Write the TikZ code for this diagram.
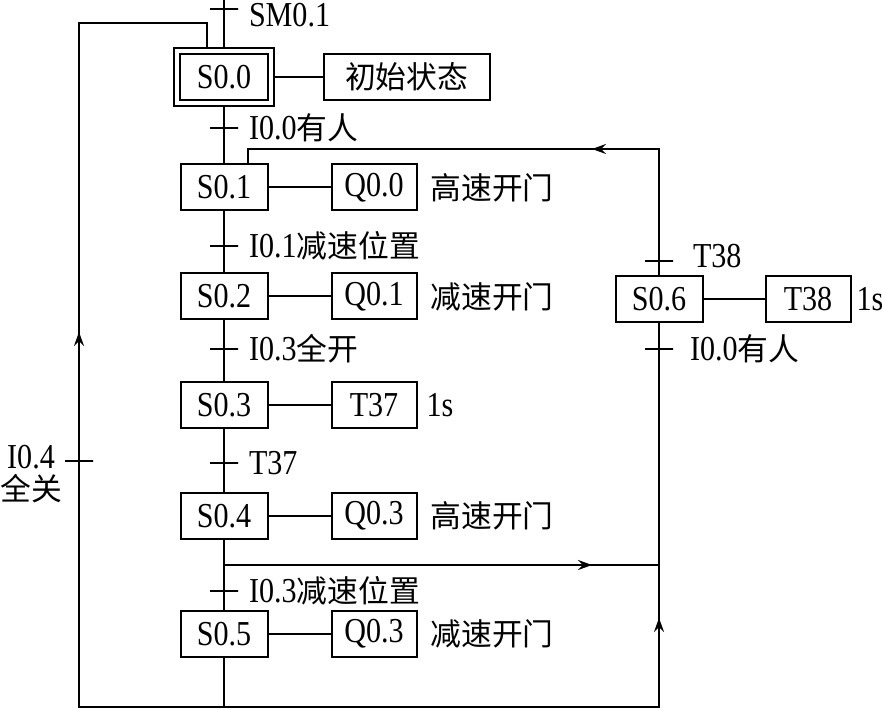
\documentclass[tikz,border=0pt]{standalone}
\usepackage{fontspec}
\setmainfont{Liberation Serif}[FakeStretch=0.86]
\newfontfamily\cjk{Noto Sans CJK SC}[Scale=0.88]
\usepackage{tikz}
\usetikzlibrary{arrows.meta,positioning}
\tikzset{
    stepbox/.style={draw,line width=1pt,minimum width=43.5pt,minimum height=23pt,
      inner sep=1pt},
    initstep/.style={stepbox,double,double distance=1.8pt,minimum width=46.8pt,
      minimum height=26pt,outer sep=1.9pt},
    actbox/.style={draw,line width=1pt,minimum width=42.5pt,minimum height=23pt,
      inner sep=1pt},
    note/.style={inner sep=0.5pt},
    transbar/.style={draw,line width=1pt,minimum width=14pt,minimum height=0pt,
      inner sep=0pt,outer sep=0pt},
    translabel/.style={inner sep=0.5pt},
    flowarrow/.style={-{Stealth[length=7pt,width=5pt,inset=2.5pt]},line width=1pt}
}
\begin{document}
\begin{tikzpicture}[x=0.5pt,y=-0.5pt,font=\fontsize{17.5}{16}\selectfont,line width=1pt]
  \useasboundingbox (0,0) rectangle (882,710);
  % steps
  \node[initstep] (s00) at (224,77) {S0.0};
  \node[stepbox] (s01) at (224,187.5) {S0.1};
  \node[stepbox] (s02) at (224,296.5) {S0.2};
  \node[stepbox] (s03) at (224,405) {S0.3};
  \node[stepbox] (s04) at (224,516) {S0.4};
  \node[stepbox] (s05) at (224,634) {S0.5};
  \node[stepbox] (s06) at (659,299) {S0.6};
  % actions
  \node[actbox,minimum width=83pt,right=24pt of s00] (a00) {\cjk 初始状态};
  \node[actbox,right=31pt of s01] (a01) {Q0.0};
  \node[note,right=5.5pt of a01] (n01) {\cjk 高速开门};
  \node[actbox,right=31pt of s02] (a02) {Q0.1};
  \node[note,right=5.5pt of a02] (n02) {\cjk 减速开门};
  \node[actbox,right=31pt of s03] (a03) {T37};
  \node[note,right=3.5pt of a03] (n03) {1s};
  \node[actbox,right=31pt of s04] (a04) {Q0.3};
  \node[note,right=5.5pt of a04] (n04) {\cjk 高速开门};
  \node[actbox,right=31pt of s05] (a05) {Q0.3};
  \node[note,right=5.5pt of a05] (n05) {\cjk 减速开门};
  \node[actbox,right=30.5pt of s06] (a06) {T38};
  \node[note,inner sep=0pt,right=2pt of a06] (n06) {1s};
  \draw (s00) -- (a00) (s01) -- (a01) (s02) -- (a02) (s03) -- (a03)
        (s04) -- (a04) (s05) -- (a05) (s06) -- (a06);
  % transitions
  \node[transbar] (t0) at (224,9) {};
  \node[translabel,right=4.5pt of t0,yshift=-3pt] (l0) {SM0.1};
  \node[transbar] (t1) at (224,128) {};
  \node[translabel,right=4.5pt of t1] (l1) {I0.0{\cjk 有人}};
  \node[transbar] (t2) at (224,246) {};
  \node[translabel,right=4.5pt of t2] (l2) {I0.1{\cjk 减速位置}};
  \node[transbar] (t3) at (224,349) {};
  \node[translabel,right=4.5pt of t3] (l3) {I0.3{\cjk 全开}};
  \node[transbar] (t4) at (224,463) {};
  \node[translabel,right=4.5pt of t4] (l4) {T37};
  \node[transbar] (t5) at (224,591) {};
  \node[translabel,right=4.5pt of t5] (l5) {I0.3{\cjk 减速位置}};
  \node[transbar] (t6) at (659,261) {};
  \node[translabel,right=9pt of t6,yshift=2.5pt] (l6) {T38};
  \node[transbar] (t7) at (659,349) {};
  \node[translabel,right=7.5pt of t7] (l7) {I0.0{\cjk 有人}};
  \node[transbar] (t8) at (79,461) {};
  \node[translabel,align=center] (l8) at (31,474) {I0.4\\{\cjk 全关}};
  % main chain
  \coordinate (top) at (224,0);
  \coordinate (mbot) at (224,707);
  \draw (top) -- (s00.north);
  \draw (s00) -- (s01) -- (s02) -- (s03) -- (s04) -- (s05) -- (mbot);
  % loop back to S0.0
  \coordinate (lbot) at (79,707);
  \coordinate (ltop) at (79,23);
  \coordinate (lin) at (207,23);
  \coordinate (la) at (79,332);
  \draw (mbot) -- (lbot) -- (ltop) -- (lin) -- (lin |- s00.north);
  \draw[flowarrow] (lbot) -- (la);
  % branch to S0.6 and back to S0.1
  \coordinate (jn) at (224,565);
  \coordinate (rj) at (659,565);
  \coordinate (ha) at (592,565);
  \coordinate (rbot) at (659,707);
  \coordinate (ra) at (659,618);
  \coordinate (rtop) at (659,149);
  \coordinate (rin) at (248,149);
  \coordinate (ta) at (592,149);
  \draw (jn) -- (rj);
  \draw (mbot) -- (rbot) -- (s06.south);
  \draw (s06.north) -- (rtop) -- (rin) -- (rin |- s01.north);
  \draw[flowarrow] (jn) -- (ha);
  \draw[flowarrow] (rbot) -- (ra);
  \draw[flowarrow] (rtop) -- (ta);
\end{tikzpicture}
\end{document}
